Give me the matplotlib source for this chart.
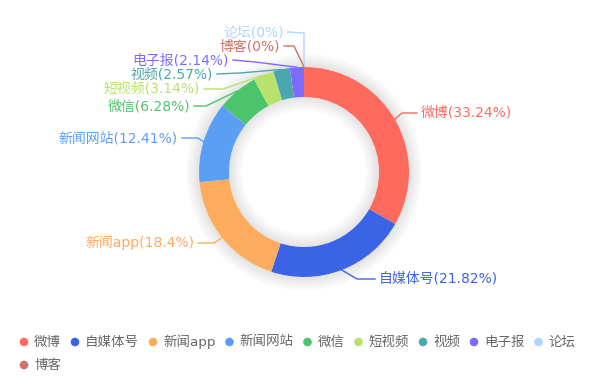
import numpy as np
import matplotlib
matplotlib.use('Agg')
import matplotlib.pyplot as plt
from matplotlib.patches import Wedge, Circle

plt.rcParams['font.family'] = ['DejaVu Sans', 'Noto Sans CJK SC']

# data
names = ['微博', '自媒体号', '新闻app', '新闻网站', '微信', '短视频', '视频', '电子报', '论坛', '博客']
values = [33.24, 21.82, 18.4, 12.41, 6.28, 3.14, 2.57, 2.14, 0, 0]
colors = ['#FF6A5F', '#3B63E6', '#FDAC5E', '#5B9EF5', '#4CC46C',
          '#B8E26C', '#4AA6AF', '#7B6CFF', '#AED6FF', '#D0716C']

# layout (pixels): elbow x/y, text x/y, alignment
label_layout = {
    '微博':   (402, 113, 421, 113, 'left'),
    '自媒体号': (357, 279, 379, 279, 'left'),
    '新闻app': (214, 243, 194, 243, 'right'),
    '新闻网站': (198, 138, 178, 138, 'right'),
    '微信':   (206, 106, 190, 106, 'right'),
    '短视频':  (223, 89, 200, 89, 'right'),
    '视频':   (240, 73, 213, 74, 'right'),
    '电子报':  (255, 62, 229, 60, 'right'),
    '博客':   (294, 46, 280, 46, 'right'),
    '论坛':   (304, 33, 284, 32, 'right'),
}

W, H = 607, 382
fig = plt.figure(figsize=(W / 100, H / 100), dpi=100)
ax = fig.add_axes([0, 0, 1, 1])

cx, cy = 304, 172
r_out, r_in = 105, 75

# soft shadow around the ring
for i in range(14):
    ax.add_patch(Wedge((cx, cy), r_out + (i + 1) * 1.0, 0, 360, width=(i + 1) * 1.0,
                       facecolor='black', alpha=0.009, lw=0, zorder=1))
    ax.add_patch(Wedge((cx, cy), r_in, 0, 360, width=(i + 1) * 1.0,
                       facecolor='black', alpha=0.009, lw=0, zorder=1))

ax.pie(values, colors=colors, radius=r_out, center=(cx, cy), startangle=-90,
       counterclock=True, frame=True,
       wedgeprops=dict(width=r_out - r_in, linewidth=0, zorder=2))

# labels with leader lines
total = sum(values)
cum = 0
for name, v, c in zip(names, values, colors):
    mid = (cum + v / 2) / total * 2 * np.pi
    cum += v
    ex = cx + r_out * np.sin(mid)
    ey = cy - r_out * np.cos(mid)
    bx, by, tx, ty, ha = label_layout[name]
    endx = tx + 4 if ha == 'right' else tx - 4
    ax.plot([ex, bx, endx], [ey, by, ty], color=c, lw=1, zorder=3,
            solid_joinstyle='round')
    ax.text(tx, ty, f'{name}({v:g}%)', color=c, fontsize=10, ha=ha, va='center',
            zorder=4)

# legend
fig.canvas.draw()
renderer = fig.canvas.get_renderer()
x, y = 24, 342
for name, c in zip(names, colors):
    t = ax.text(0, 0, name, fontsize=9.7, color='#666666', va='center', ha='left')
    w = t.get_window_extent(renderer).width
    if x + 10 + w > W - 4:
        x = 24
        y += 23
    ax.add_patch(Circle((x, y), 4.3, facecolor=c, lw=0))
    t.set_position((x + 10, y))
    x += 10 + w + 14

ax.set_xlim(0, W)
ax.set_ylim(H, 0)
ax.set_aspect('equal')
ax.axis('off')

fig.savefig('out.png', dpi=100)
